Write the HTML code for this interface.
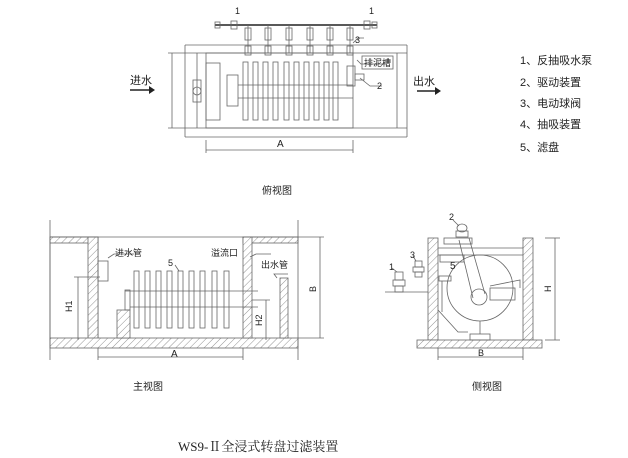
<!DOCTYPE html>
<html><head><meta charset="utf-8"><style>
html,body{margin:0;padding:0;background:#fff;}
svg{display:block}
text{font-family:"Liberation Sans","Noto Sans CJK SC",sans-serif;fill:#222;}
</style></head><body>
<svg width="628" height="458" viewBox="0 0 628 458" xmlns="http://www.w3.org/2000/svg">
<defs>
<pattern id="h" width="5" height="5" patternUnits="userSpaceOnUse" patternTransform="rotate(45)">
<rect width="5" height="5" fill="#fff"/><line x1="0" y1="0" x2="0" y2="5" stroke="#777" stroke-width="0.8"/></pattern>
</defs>
<g stroke="#666" stroke-width="0.8" fill="none">
<!-- TOP VIEW -->
<line x1="185" y1="45" x2="407" y2="45"/>
<line x1="185" y1="137" x2="407" y2="137"/>
<line x1="185" y1="53" x2="407" y2="53"/>
<line x1="185" y1="128" x2="407" y2="128"/>
<line x1="185" y1="45" x2="185" y2="137"/>
<line x1="407" y1="45" x2="407" y2="137"/>
<line x1="197" y1="53" x2="197" y2="128"/>
<rect x="206" y="53" width="147" height="75"/>
<line x1="397" y1="53" x2="397" y2="128"/>
<rect x="206" y="63" width="14" height="57"/>
<rect x="227" y="75" width="11" height="31"/>
<line x1="238" y1="85" x2="353" y2="85"/><line x1="238" y1="98" x2="353" y2="98"/>
<g>
<rect x="243" y="62" width="5" height="58"/><rect x="253" y="62" width="5" height="58"/>
<rect x="263" y="62" width="5" height="58"/><rect x="273" y="62" width="5" height="58"/>
<rect x="284" y="62" width="5" height="58"/><rect x="294" y="62" width="5" height="58"/>
<rect x="304" y="62" width="5" height="58"/><rect x="314" y="62" width="5" height="58"/>
<rect x="324" y="62" width="5" height="58"/><rect x="333" y="62" width="5" height="58"/>
</g>
<rect x="193" y="80" width="8" height="22"/><circle cx="197" cy="91" r="4"/>
<rect x="347" y="66" width="8" height="20"/><rect x="355" y="74" width="9" height="6"/>
<line x1="215" y1="25" x2="377" y2="25" stroke="#222" stroke-width="1.6"/>
<rect x="231" y="21" width="6" height="8"/><rect x="364" y="21" width="6" height="8"/>
<rect x="215" y="22" width="5" height="6"/><rect x="372" y="22" width="5" height="6"/>
<g>
<path d="M248 25v28M268 25v28M289 25v28M310 25v28M330 25v28M350 25v28"/>
<rect x="245" y="28" width="6" height="12"/><rect x="265" y="28" width="6" height="12"/><rect x="286" y="28" width="6" height="12"/>
<rect x="307" y="28" width="6" height="12"/><rect x="327" y="28" width="6" height="12"/><rect x="347" y="28" width="6" height="12"/>
<rect x="245" y="46" width="6" height="9"/><rect x="265" y="46" width="6" height="9"/><rect x="286" y="46" width="6" height="9"/>
<rect x="307" y="46" width="6" height="9"/><rect x="327" y="46" width="6" height="9"/><rect x="347" y="46" width="6" height="9"/>
</g>
<line x1="172" y1="53" x2="172" y2="128"/><line x1="168" y1="53" x2="185" y2="53"/><line x1="168" y1="128" x2="185" y2="128"/>
<line x1="206" y1="150" x2="353" y2="150"/><line x1="206" y1="140" x2="206" y2="153"/><line x1="353" y1="140" x2="353" y2="153"/>
<path d="M353 43l5-5h6M357 60l4 4h26M360 78l10 8h12"/>
<rect x="362" y="56" width="31" height="13"/>
</g>
<line x1="130" y1="90" x2="150" y2="90" stroke="#222" stroke-width="1.5"/><path d="M149 86l6 4-6 4z" fill="#222"/>
<line x1="417" y1="91" x2="436" y2="91" stroke="#222" stroke-width="1.5"/><path d="M435 87l6 4-6 4z" fill="#222"/>
<g font-size="11">
<text x="130" y="84">进水</text><text x="413" y="85">出水</text>
<text x="364" y="66" font-size="9">排泥槽</text>
<text x="235" y="14" font-size="9">1</text><text x="369" y="14" font-size="9">1</text>
<text x="355" y="43" font-size="9">3</text><text x="377" y="89" font-size="9">2</text>
<text x="277" y="147" font-size="10">A</text>
<text x="262" y="194" font-size="10">俯视图</text>
<text x="520" y="64">1、反抽吸水泵</text>
<text x="520" y="86">2、驱动装置</text>
<text x="520" y="107">3、电动球阀</text>
<text x="520" y="128">4、抽吸装置</text>
<text x="520" y="151">5、滤盘</text>
</g>
<!-- MAIN VIEW -->
<g stroke="#666" stroke-width="0.8">
<path d="M50 237h48v103h-48z M50 237" fill="none"/>
<rect x="50" y="237" width="48" height="6" fill="url(#h)"/>
<rect x="88" y="237" width="10" height="103" fill="url(#h)"/>
<rect x="50" y="338" width="248" height="10" fill="url(#h)"/>
<rect x="243" y="237" width="55" height="6" fill="url(#h)"/>
<rect x="243" y="237" width="9" height="101" fill="url(#h)"/>
<rect x="280" y="278" width="8" height="60" fill="url(#h)"/>
<rect x="117" y="310" width="13" height="28" fill="url(#h)"/>
</g>
<g stroke="#666" stroke-width="0.8" fill="none">
<line x1="50" y1="237" x2="298" y2="237"/>
<line x1="50" y1="220" x2="50" y2="360"/><line x1="298" y1="220" x2="298" y2="360"/>
<rect x="125" y="290" width="5" height="20"/>
<line x1="125" y1="291" x2="258" y2="291"/><line x1="130" y1="307" x2="258" y2="307"/>
<rect x="134" y="271" width="5" height="57"/><rect x="145" y="271" width="5" height="57"/>
<rect x="156" y="271" width="5" height="57"/><rect x="167" y="271" width="5" height="57"/>
<rect x="178" y="271" width="5" height="57"/><rect x="189" y="271" width="5" height="57"/>
<rect x="200" y="271" width="5" height="57"/><rect x="212" y="271" width="5" height="57"/>
<rect x="224" y="271" width="5" height="57"/>
<rect x="98" y="261" width="10" height="20"/>
<line x1="78" y1="277" x2="78" y2="340"/><line x1="74" y1="277" x2="100" y2="277"/>
<line x1="266" y1="300" x2="266" y2="340"/><line x1="252" y1="300" x2="270" y2="300"/>
<line x1="320" y1="237" x2="320" y2="338"/><line x1="298" y1="338" x2="324" y2="338"/><line x1="298" y1="237" x2="324" y2="237"/>
<line x1="98" y1="357" x2="243" y2="357"/><line x1="98" y1="348" x2="98" y2="360"/><line x1="243" y1="348" x2="243" y2="360"/>
<path d="M108 258l6-4h20M250 257l6-3h15M277 278l-3-4h14M175 265l4 6"/>
</g>
<g font-size="9">
<text x="115" y="256">进水管</text><text x="211" y="256">溢流口</text><text x="261" y="268">出水管</text>
<text x="168" y="266">5</text>
<text x="171" y="357" font-size="10">A</text>
<text transform="translate(72,312) rotate(-90)">H1</text>
<text transform="translate(262,326) rotate(-90)">H2</text>
<text transform="translate(316,292) rotate(-90)">B</text>
<text x="133" y="390" font-size="10">主视图</text>
</g>
<!-- SIDE VIEW -->
<g stroke="#666" stroke-width="0.8">
<rect x="428" y="238" width="10" height="102" fill="url(#h)"/>
<rect x="523" y="238" width="10" height="102" fill="url(#h)"/>
<rect x="417" y="340" width="125" height="8" fill="url(#h)"/>
</g>
<g stroke="#666" stroke-width="0.8" fill="none">
<line x1="438" y1="248" x2="523" y2="248"/><line x1="438" y1="255" x2="523" y2="255"/>
<rect x="444" y="238" width="28" height="6"/>
<circle cx="480" cy="288" r="33"/>
<path d="M459 240l14 58M469 238l16 56"/>
<circle cx="479" cy="297" r="8"/>
<rect x="490" y="288" width="25" height="12"/><path d="M490 286l30-6v8"/>
<rect x="440" y="255" width="24" height="7"/>
<path d="M438 310l20 22h10"/>
<rect x="439" y="276" width="12" height="5"/><line x1="442" y1="281" x2="442" y2="312"/>
<rect x="470" y="334" width="20" height="6"/><line x1="480" y1="321" x2="480" y2="334"/>
<ellipse cx="462" cy="228" rx="5" ry="4"/><rect x="456" y="231" width="12" height="6"/>
<line x1="385" y1="292" x2="428" y2="292"/>
<rect x="395" y="272" width="8" height="8"/><rect x="393" y="280" width="12" height="6"/><rect x="395" y="286" width="8" height="6"/>
<rect x="415" y="261" width="7" height="6"/><rect x="413" y="267" width="11" height="5"/><rect x="415" y="272" width="7" height="5"/>
<line x1="555" y1="238" x2="555" y2="340"/><line x1="545" y1="238" x2="560" y2="238"/><line x1="545" y1="340" x2="560" y2="340"/>
<line x1="438" y1="357" x2="523" y2="357"/><line x1="438" y1="348" x2="438" y2="360"/><line x1="523" y1="348" x2="523" y2="360"/>
<path d="M453 220l6 6M392 268l5 4M413 256l3 5"/>
</g>
<g font-size="9">
<text x="449" y="220">2</text><text x="410" y="258">3</text><text x="389" y="270">1</text>
<text x="450" y="269" font-size="10">5</text>
<text transform="translate(551,292) rotate(-90)">H</text>
<text x="478" y="356">B</text>
<text x="472" y="390" font-size="10">侧视图</text>
</g>
<text x="178" y="451" font-size="13" style='font-family:"Liberation Serif","Noto Serif CJK SC",serif'>WS9-Ⅱ全浸式转盘过滤装置</text>
</svg>
</body></html>
